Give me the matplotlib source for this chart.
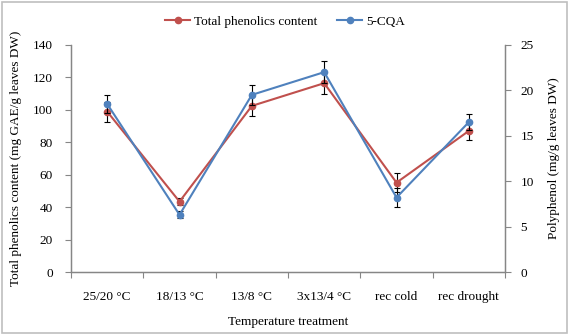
import matplotlib
matplotlib.use("Agg")
import matplotlib.pyplot as plt
from matplotlib.patches import Rectangle
from matplotlib.lines import Line2D

categories = ["25/20 °C", "18/13 °C", "13/8 °C", "3x13/4 °C", "rec cold", "rec drought"]
total_phenolics = [98.9, 43.4, 102.4, 116.4, 55.1, 87.0]
total_phenolics_err = [6.2, 2.0, 6.0, 6.8, 5.8, 5.5]
cqa = [18.5, 6.3, 19.5, 22.0, 8.2, 16.5]
cqa_err = [1.0, 0.4, 1.1, 1.2, 1.0, 0.9]

plt.rcParams['font.family'] = ['Liberation Serif', 'DejaVu Serif']
red = '#C0504D'
blue = '#4F81BD'
gray = '#868686'

fig = plt.figure(figsize=(5.7, 3.35), dpi=100)
ax = fig.add_axes([0.1246, 0.188, 0.7614, 0.678])
ax2 = ax.twinx()

x = list(range(len(categories)))
ax.errorbar(x, total_phenolics, yerr=total_phenolics_err, color=red, marker='o',
            markersize=4.5, linewidth=1.5, ecolor='black', elinewidth=0.8,
            capsize=2.5, capthick=0.8, zorder=3)
ax2.errorbar(x, cqa, yerr=cqa_err, color=blue, marker='o', markersize=4.5,
             linewidth=1.5, ecolor='black', elinewidth=0.8, capsize=2.5,
             capthick=0.8, zorder=3)

ax.set_xlim(-0.5, len(categories) - 0.5)
ax.set_ylim(0, 140)
ax.set_yticks(range(0, 141, 20))
ax2.set_ylim(0, 25)
ax2.set_yticks(range(0, 26, 5))

ax.set_xticks([i - 0.5 for i in range(len(categories) + 1)])
ax.set_xticklabels([])
ax.set_xticks(x, minor=True)
ax.set_xticklabels(categories, minor=True, fontsize=9.5)
ax.tick_params(axis='x', which='minor', length=0, pad=14)
ax.tick_params(axis='x', which='major', length=4, color=gray, direction='out')
ax.tick_params(axis='y', length=4, color=gray, labelsize=9.5, direction='out', pad=9)
ax2.tick_params(axis='y', length=4, color=gray, labelsize=9.5, direction='out', pad=7)

for a in (ax, ax2):
    a.spines['top'].set_visible(False)
    for s in ('left', 'right', 'bottom'):
        a.spines[s].set_color(gray)
        a.spines[s].set_linewidth(0.9)

ax.set_xlabel('Temperature treatment', fontsize=9.5, labelpad=9)
ax.set_ylabel('Total phenolics content (mg GAE/g leaves DW)', fontsize=9.5, labelpad=8)
ax2.set_ylabel('Polyphenol (mg/g leaves DW)', fontsize=9.5, labelpad=10)

h1 = Line2D([], [], color=red, marker='o', markersize=4.5, linewidth=1.5)
h2 = Line2D([], [], color=blue, marker='o', markersize=4.5, linewidth=1.5)
fig.legend(handles=[h1, h2], labels=['Total phenolics content', '5-CQA'],
           loc='center', bbox_to_anchor=(0.5, 0.935), ncol=2, frameon=False,
           fontsize=9.5, handlelength=1.9, columnspacing=1.5, handletextpad=0.3)

fig.patches.append(Rectangle((0.003, 0.005), 0.992, 0.99, transform=fig.transFigure,
                             fill=False, edgecolor='#BFBFBF', linewidth=1.2))

fig.savefig('out.png', dpi=100)
